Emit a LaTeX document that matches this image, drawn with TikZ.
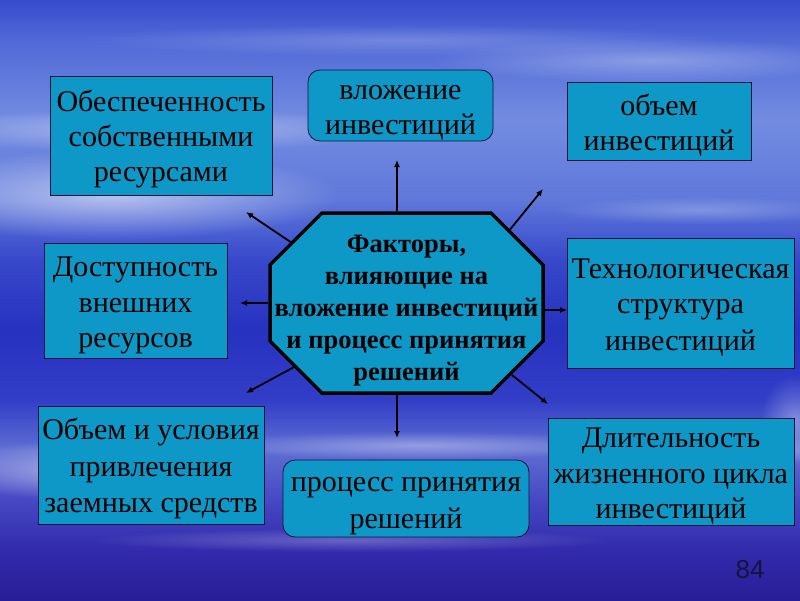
\documentclass[tikz,border=0pt]{standalone}
\usepackage{fontspec}
\setmainfont{Liberation Serif}
\newfontfamily\numfont{Liberation Sans}
\usetikzlibrary{arrows.meta,fadings}
\newcommand\mystrut{\rule[-6pt]{0pt}{35pt}}
\newcommand\octstrut{\rule[-6pt]{0pt}{32pt}}
\definecolor{boxfill}{RGB}{14,152,200}
\definecolor{boxline}{RGB}{15,20,60}
\definecolor{numcol}{RGB}{20,20,60}
\definecolor{skA}{RGB}{55,75,205}
\definecolor{skB}{RGB}{80,105,215}
\definecolor{skC}{RGB}{115,140,225}
\definecolor{skD}{RGB}{95,120,218}
\definecolor{skE}{RGB}{55,72,202}
\definecolor{skF}{RGB}{38,50,192}
\definecolor{skG}{RGB}{50,62,198}
\definecolor{skH}{RGB}{95,110,210}
\definecolor{skI}{RGB}{70,72,195}
\definecolor{skJ}{RGB}{50,42,172}
\definecolor{skK}{RGB}{40,30,150}
\pgfdeclareverticalshading{skyshade}{100bp}{color(0bp)=(skK); color(25bp)=(skK); color(29.17bp)=(skJ); color(33.33bp)=(skI); color(37.5bp)=(skH); color(41.67bp)=(skG); color(47.5bp)=(skF); color(53.33bp)=(skE); color(58.33bp)=(skD); color(65bp)=(skC); color(71.67bp)=(skB); color(75bp)=(skA); color(100bp)=(skA)}
\tikzfading[name=softglow, inner color=transparent!0, outer color=transparent!100]
\tikzset{
  txt/.style={font=\fontsize{30}{35}\selectfont, text=black, align=center, inner sep=0pt},
  sqbox/.style={txt, rectangle, draw=boxline, line width=0.8pt, fill=boxfill},
  rbox/.style={sqbox, rounded corners=12pt},
  octtxt/.style={font=\bfseries\fontsize{26.5}{32}\selectfont, text=black, align=center, inner sep=0pt},
  arr/.style={draw=black, line width=1.8pt, -{Latex[length=7pt,width=6pt]}},
  streak/.style={fill=white, path fading=softglow}
}
\begin{document}
\begin{tikzpicture}[x=1pt,y=-1pt]
\useasboundingbox (0,0) rectangle (800,600);
\shade[shading=skyshade] (0,0) rectangle (800,600);
% cloud streaks
\fill[streak, fill opacity=.55] (110,195) ellipse [x radius=230pt, y radius=45pt];
\fill[streak, fill opacity=.4] (150,130) ellipse [x radius=240pt, y radius=22pt];
\fill[streak, fill opacity=.3] (650,60) ellipse [x radius=220pt, y radius=22pt];
\fill[streak, fill opacity=.2] (400,40) ellipse [x radius=320pt, y radius=16pt];
\fill[streak, fill opacity=.25] (700,210) ellipse [x radius=150pt, y radius=14pt];
\fill[streak, fill opacity=.5] (90,470) ellipse [x radius=160pt, y radius=30pt];
\fill[streak, fill opacity=.35] (420,445) ellipse [x radius=220pt, y radius=14pt];
\fill[streak, fill opacity=.3] (700,450) ellipse [x radius=160pt, y radius=16pt];
\fill[streak, fill opacity=.25] (350,540) ellipse [x radius=260pt, y radius=12pt];
\fill[streak, fill opacity=.35] (795,420) ellipse [x radius=35pt, y radius=45pt];

% boxes
\node[sqbox, minimum width=222pt, minimum height=119pt] (b1) at (161,135.5) {\mystrut Обеспеченность\\\mystrut собственными\\\mystrut ресурсами};
\node[rbox, minimum width=185pt, minimum height=71pt] (b2) at (400.5,105.5) {\mystrut вложение\\\mystrut инвестиций};
\node[sqbox, minimum width=184pt, minimum height=78pt] (b3) at (659,121) {\mystrut объем\\\mystrut инвестиций};
\node[sqbox, minimum width=183pt, minimum height=115pt] (b4) at (135.5,300.5) {\mystrut Доступность\\\mystrut внешних\\\mystrut ресурсов};
\node[sqbox, minimum width=227pt, minimum height=130pt] (b5) at (680.5,303) {\mystrut Технологическая\\\mystrut структура\\\mystrut инвестиций};
\node[sqbox, minimum width=226pt, minimum height=118pt] (b6) at (151,465) {\mystrut Объем и условия\\\mystrut привлечения\\\mystrut заемных средств};
\node[rbox, minimum width=246pt, minimum height=77pt] (b7) at (406,498.5) {\mystrut процесс принятия\\\mystrut решений};
\node[sqbox, minimum width=246pt, minimum height=107pt] (b8) at (671,471.5) {\mystrut Длительность\\\mystrut жизненного цикла\\\mystrut инвестиций};

% octagon
\coordinate (o1) at (322,213);
\coordinate (o2) at (491,213);
\coordinate (o3) at (543,265);
\coordinate (o4) at (543,341);
\coordinate (o5) at (491,393);
\coordinate (o6) at (322,393);
\coordinate (o7) at (270,341);
\coordinate (o8) at (270,265);
\filldraw[fill=boxfill, draw=black, line width=3.5pt, line join=miter] (o1) -- (o2) -- (o3) -- (o4) -- (o5) -- (o6) -- (o7) -- (o8) -- cycle;
\node[octtxt] (oct) at (406.5,306) {\octstrut Факторы,\\\octstrut влияющие на\\\octstrut вложение инвестиций\\\octstrut и процесс принятия\\\octstrut решений};

% arrows
\coordinate (sU) at (397,211);   \coordinate (eU) at (397,160);
\coordinate (sD) at (397,395);   \coordinate (eD) at (397,438);
\coordinate (sL) at (268,303);   \coordinate (eL) at (240,303);
\coordinate (sR) at (545,310);   \coordinate (eR) at (567,310);
\coordinate (sUL) at (292,243);  \coordinate (eUL) at (246,212);
\coordinate (sUR) at (508,232);  \coordinate (eUR) at (543,189);
\coordinate (sLL) at (296,366);  \coordinate (eLL) at (246,393);
\coordinate (sLR) at (512,375);  \coordinate (eLR) at (548,404);
\draw[arr] (sU) -- (eU);
\draw[arr] (sD) -- (eD);
\draw[arr] (sL) -- (eL);
\draw[arr] (sR) -- (eR);
\draw[arr] (sUL) -- (eUL);
\draw[arr] (sUR) -- (eUR);
\draw[arr] (sLL) -- (eLL);
\draw[arr] (sLR) -- (eLR);

\node[font=\numfont\fontsize{26}{30}\selectfont, text=numcol, inner sep=0pt] (pg) at (750,570) {84};
\end{tikzpicture}
\end{document}
